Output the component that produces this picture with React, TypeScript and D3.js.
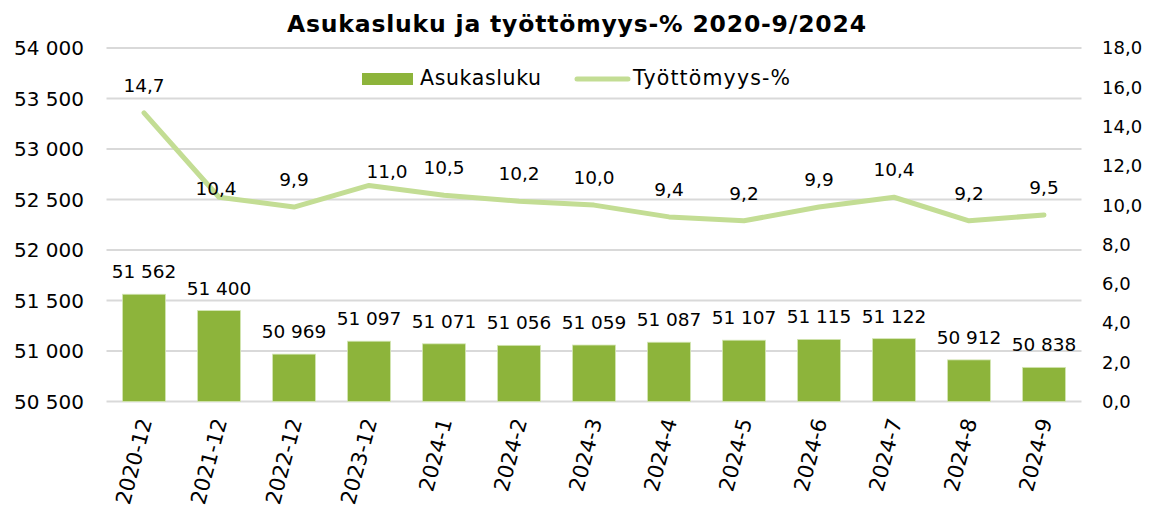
import React from "react";
import * as d3 from "d3";

const categories = ["2020-12", "2021-12", "2022-12", "2023-12", "2024-1", "2024-2", "2024-3", "2024-4", "2024-5", "2024-6", "2024-7", "2024-8", "2024-9"];
const population = [51562, 51400, 50969, 51097, 51071, 51056, 51059, 51087, 51107, 51115, 51122, 50912, 50838];
const unemployment = [14.7, 10.4, 9.9, 11.0, 10.5, 10.2, 10.0, 9.4, 9.2, 9.9, 10.4, 9.2, 9.5];
const leftTicks = [50500, 51000, 51500, 52000, 52500, 53000, 53500, 54000];
const rightTicks = [0, 2, 4, 6, 8, 10, 12, 14, 16, 18];
// manual nudges of individual line labels (as placed in the original)
const lineLabelNudge: Record<number, [number, number]> = { 1: [-3, 19], 3: [18, 14] };

const W = 1162, H = 508;
const FONT = "'DejaVu Sans', Verdana, sans-serif";
const BAR = "#8db43b";
const LINE = "#c3dd94";
const GRID = "#d9d9d9";

const fmtInt = (v: number) => d3.format(",")(v).replace(/,/g, "\u00a0");
const fmt1 = (v: number) => d3.format(".1f")(v).replace(".", ",");

export default function App() {
  const x = d3.scaleBand<string>().domain(categories).range([106.5, 1081.5]).paddingInner(0.427).paddingOuter(0.2135);
  const yL = d3.scaleLinear().domain([50500, 54000]).range([401.5, 48]);
  const yR = d3.scaleLinear().domain([0, 18]).range([401.5, 48]);
  const cx = (c: string) => (x(c) as number) + x.bandwidth() / 2;
  const line = d3.line<number>().x((_, i) => cx(categories[i])).y((d) => yR(d));

  return (
    <svg width={W} height={H} style={{ position: "absolute", left: 0, top: 0, background: "#fff" }} fontFamily={FONT}>
      <rect width={W} height={H} fill="#fff" />
      <text x={576.5} y={32} textAnchor="middle" fontWeight="bold" fontSize={23.5} textLength={579} lengthAdjust="spacing" fill="#000">
        Asukasluku ja työttömyys-% 2020-9/2024
      </text>
      {leftTicks.map((t) => (
        <g key={t}>
          <line x1={106.5} x2={1081.5} y1={yL(t)} y2={yL(t)} stroke={GRID} strokeWidth={1.8} />
          <text x={84} y={yL(t)} dy="0.36em" textAnchor="end" fontSize={20} fill="#000">{fmtInt(t)}</text>
        </g>
      ))}
      {rightTicks.map((t) => (
        <text key={t} x={1102} y={yR(t)} dy="0.36em" fontSize={18} fill="#000">{fmt1(t)}</text>
      ))}
      {categories.map((c, i) => (
        <rect key={c} x={x(c)} y={yL(population[i])} width={x.bandwidth()} height={yL(50500) - yL(population[i])} fill={BAR} stroke="#d4e6b5" strokeWidth={0.8} />
      ))}
      {categories.map((c, i) => (
        <text key={c} x={cx(c)} y={yL(population[i]) - 16} textAnchor="middle" fontSize={18.5} fill="#000">{fmtInt(population[i])}</text>
      ))}
      <path d={line(unemployment) || ""} fill="none" stroke={LINE} strokeWidth={5} strokeLinecap="round" strokeLinejoin="round" />
      {categories.map((c, i) => {
        const [dx, dy] = lineLabelNudge[i] || [0, 0];
        return (
          <text key={c} x={cx(c) + dx} y={yR(unemployment[i]) - 21 + dy} textAnchor="middle" fontSize={18.5} fill="#000">{fmt1(unemployment[i])}</text>
        );
      })}
      {categories.map((c) => (
        <text key={c} transform={`translate(${cx(c) + 1},${419}) rotate(-75)`} dy="0.35em" textAnchor="end" fontSize={21} fill="#000">{c}</text>
      ))}
      <rect x={362} y={73} width={51} height={12} fill={BAR} />
      <text x={420} y={85} fontSize={20.5} textLength={121} lengthAdjust="spacing" fill="#000">Asukasluku</text>
      <line x1={577} x2={628} y1={79} y2={79} stroke={LINE} strokeWidth={5} strokeLinecap="round" />
      <text x={633} y={85} fontSize={20.5} textLength={157} lengthAdjust="spacing" fill="#000">Työttömyys-%</text>
    </svg>
  );
}
